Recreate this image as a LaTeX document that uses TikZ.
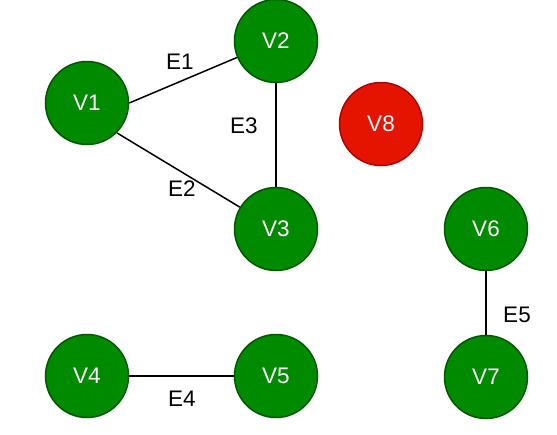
\documentclass[tikz,border=0pt]{standalone}
\usepackage{fontspec}
\setmainfont{Liberation Sans}
\usetikzlibrary{calc}
\definecolor{vgreen}{HTML}{008A00}
\definecolor{vgreenline}{HTML}{005700}
\definecolor{vred}{HTML}{E51400}
\definecolor{vredline}{HTML}{B20000}

\begin{document}
\begin{tikzpicture}[x=1pt,y=-1pt,font=\fontsize{22.5}{27}\selectfont,
		vertex/.style={circle,minimum size=83pt,inner sep=0pt,line width=1.5pt,text=white}]
		
		\useasboundingbox (0,0) rectangle (557,434);
		
		\foreach \n/\x/\y in {1/87/103, 2/276/41, 3/276/229, 4/87/376, 5/276/376, 6/486/229, 7/486/377} {
			\node (v\n) at (\x,\y) [vertex,fill=vgreen,draw=vgreenline] {V\n};
		}
		\node (v8) at (381,124) [vertex,fill=vred,draw=vredline] {V8};
		
		\node (e1) at (180,62) {E1};
		\node (e2) at (182,189) {E2};
		\node (e3) at (244,126) {E3};
		\node (e4) at (182,399) {E4};
		\node (e5) at (517,315) {E5};
		
		\draw[-,line width=1.5pt] (v1.east) -- (v2);
		\draw[-,line width=1.5pt] (v1.south east) -- (v3);
		\draw[-,line width=1.5pt] (v2) -- (v3);
		\draw[-,line width=1.5pt] (v4) -- (v5);
		\draw[-,line width=1.5pt] (v6) -- (v7);
		
	\end{tikzpicture}
\end{document}
